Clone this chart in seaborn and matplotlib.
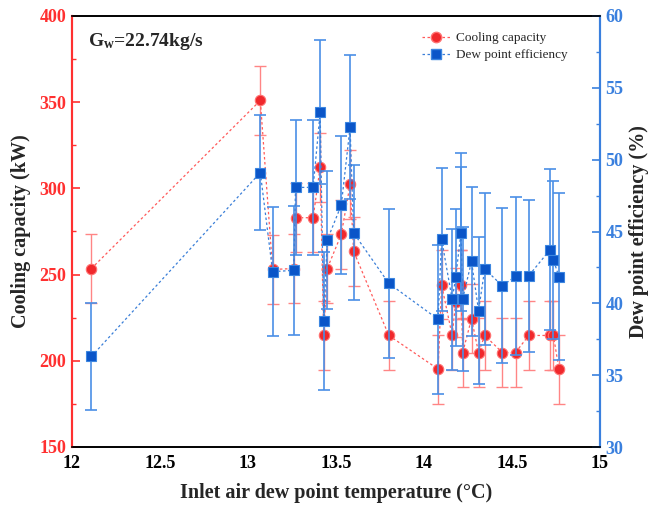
import numpy as np
import pandas as pd
import seaborn as sns
import matplotlib
matplotlib.use("Agg")
import matplotlib.pyplot as plt
from matplotlib.lines import Line2D
from matplotlib.ticker import MultipleLocator

sns.set_style("white")
plt.rcParams['font.family'] = ['Liberation Serif', 'DejaVu Serif']
plt.rcParams['mathtext.fontset'] = 'custom'
plt.rcParams['mathtext.rm'] = 'Liberation Serif'
plt.rcParams['mathtext.bf'] = 'Liberation Serif:bold'

# ---- data ----
dew_temp = [12.11, 13.07, 13.14, 13.26, 13.27, 13.37, 13.41, 13.43, 13.45, 13.53,
            13.58, 13.60, 13.80, 14.08, 14.10, 14.16, 14.18, 14.21, 14.21, 14.22,
            14.27, 14.31, 14.345, 14.445, 14.52, 14.595, 14.716, 14.735, 14.767]
cooling = [253.5, 351.0, 253.0, 253.5, 283.0, 283.0, 312.4, 214.7, 253.5, 273.3,
           302.3, 263.6, 214.7, 195.2, 244.0, 214.7, 234.0, 244.0, 244.0, 204.8,
           224.4, 204.8, 214.7, 204.8, 204.8, 214.7, 214.7, 214.7, 195.2]
cooling_err = [20.0] * len(cooling)
efficiency = [36.3, 49.1, 42.2, 42.3, 48.07, 48.07, 53.3, 38.77, 44.4, 46.84,
              52.27, 44.9, 41.39, 38.89, 44.45, 40.28, 41.8, 45.33, 44.5, 40.32,
              42.92, 39.49, 42.39, 41.22, 41.88, 41.92, 43.73, 43.03, 41.85]
efficiency_err = [3.7, 4.0, 4.5, 4.5, 4.7, 4.7, 5.0, 4.8, 4.8, 4.8,
                  5.0, 4.7, 5.2, 5.2, 5.0, 4.9, 4.8, 5.1, 5.0, 5.0,
                  5.2, 5.1, 5.3, 5.4, 5.5, 5.3, 5.6, 5.5, 5.8]

df = pd.DataFrame({"T": dew_temp, "Q": cooling, "Qe": cooling_err,
                   "E": efficiency, "Ee": efficiency_err})

RED = "#f0282c"
RED_L = "#ff8585"
BLUE = "#0a55c8"
BLUE_L = "#4a8fe6"
RED_AX = "#ff3030"
BLUE_AX = "#3a80de"

fig = plt.figure(figsize=(6.51, 5.05), dpi=100)
ax = fig.add_axes([72/651, 1-447/505, (600-72)/651, (447-16)/505])
ax2 = ax.twinx()

# red series
ax.errorbar(df["T"], df["Q"], yerr=df["Qe"], fmt="none", ecolor=RED_L,
            elinewidth=1.0, capsize=4, capthick=1.0, zorder=2)
sns.lineplot(data=df, x="T", y="Q", sort=False, ax=ax, color="#ff5a5a",
             linestyle=(0, (2, 2)), linewidth=0.9, marker="o", markersize=7.5,
             markerfacecolor=RED, markeredgecolor="#ff7070", markeredgewidth=0.8,
             zorder=3, legend=False)

# blue series
ax2.errorbar(df["T"], df["E"], yerr=df["Ee"], fmt="none", ecolor=BLUE_L,
             elinewidth=1.2, capsize=4, capthick=1.2, zorder=2)
sns.lineplot(data=df, x="T", y="E", sort=False, ax=ax2, color="#3a7fd8",
             linestyle=(0, (2, 2)), linewidth=0.9, marker="s", markersize=7,
             markerfacecolor=BLUE, markeredgecolor="#3c86e0", markeredgewidth=0.8,
             zorder=3, legend=False)

ax.set_xlim(12, 15)
ax.set_ylim(150, 400)
ax2.set_ylim(30, 60)

ax.xaxis.set_major_locator(MultipleLocator(0.5))
ax.xaxis.set_minor_locator(MultipleLocator(0.25))
ax.yaxis.set_major_locator(MultipleLocator(50))
ax.yaxis.set_minor_locator(MultipleLocator(25))
ax2.yaxis.set_major_locator(MultipleLocator(5))
ax2.yaxis.set_minor_locator(MultipleLocator(2.5))

tick_font = dict(fontsize=13, fontweight="bold")
ax.set_xticks([12, 12.5, 13, 13.5, 14, 14.5, 15])
ax.set_xticklabels(["12", "12.5", "13", "13.5", "14", "14.5", "15"], **tick_font)
ax.set_yticks([150, 200, 250, 300, 350, 400])
ax.set_yticklabels(["150", "200", "250", "300", "350", "400"], color=RED_AX, **tick_font)
ax2.set_yticks([30, 35, 40, 45, 50, 55, 60])
ax2.set_yticklabels(["30", "35", "40", "45", "50", "55", "60"], color=BLUE_AX, **tick_font)

ax.tick_params(axis="x", which="major", direction="in", length=6, width=1.2, colors="black", pad=6, top=False)
ax.tick_params(axis="x", which="minor", direction="in", length=3, width=1.0, colors="black", top=False)
ax.tick_params(axis="y", which="major", direction="in", length=6, width=1.2, color=RED_AX, pad=4)
ax.tick_params(axis="y", which="minor", direction="in", length=3, width=1.0, color=RED_AX)
ax2.tick_params(axis="y", which="major", direction="in", length=6, width=1.2, color=BLUE_AX, pad=4)
ax2.tick_params(axis="y", which="minor", direction="in", length=3, width=1.0, color=BLUE_AX)

for a in (ax, ax2):
    a.spines["top"].set_color("black")
    a.spines["top"].set_linewidth(1.2)
    a.spines["bottom"].set_color("black")
    a.spines["bottom"].set_linewidth(1.2)
    a.spines["left"].set_color(RED_AX)
    a.spines["left"].set_linewidth(1.5)
    a.spines["right"].set_color(BLUE_AX)
    a.spines["right"].set_linewidth(1.5)

ax.set_xlabel("Inlet air dew point temperature (°C)", fontsize=14.5, fontweight="bold", labelpad=8)
ax.set_ylabel("Cooling capacity (kW)", fontsize=14.5, fontweight="bold", labelpad=6)
ax2.set_ylabel("Dew point efficiency (%)", fontsize=14.5, fontweight="bold", labelpad=4)

ax.text(0.03, 0.965, r"$\mathbf{G_w}$=22.74kg/s", transform=ax.transAxes,
        fontsize=14, fontweight="bold", va="top", ha="left")

handles = [
    Line2D([0], [0], color="#ff5a5a", linestyle=(0, (2, 2)), linewidth=0.9,
           marker="o", markersize=7.5, markerfacecolor=RED, markeredgecolor="#ff7070"),
    Line2D([0], [0], color="#3a7fd8", linestyle=(0, (2, 2)), linewidth=0.9,
           marker="s", markersize=7, markerfacecolor=BLUE, markeredgecolor="#3c86e0"),
]
ax2.legend(handles, ["Cooling capacity", "Dew point efficiency"], loc="upper left",
           bbox_to_anchor=(0.64, 0.99), frameon=False, fontsize=9.5,
           handlelength=2.2, handletextpad=0.4, labelspacing=0.35)

fig.savefig("out.png", dpi=100)
